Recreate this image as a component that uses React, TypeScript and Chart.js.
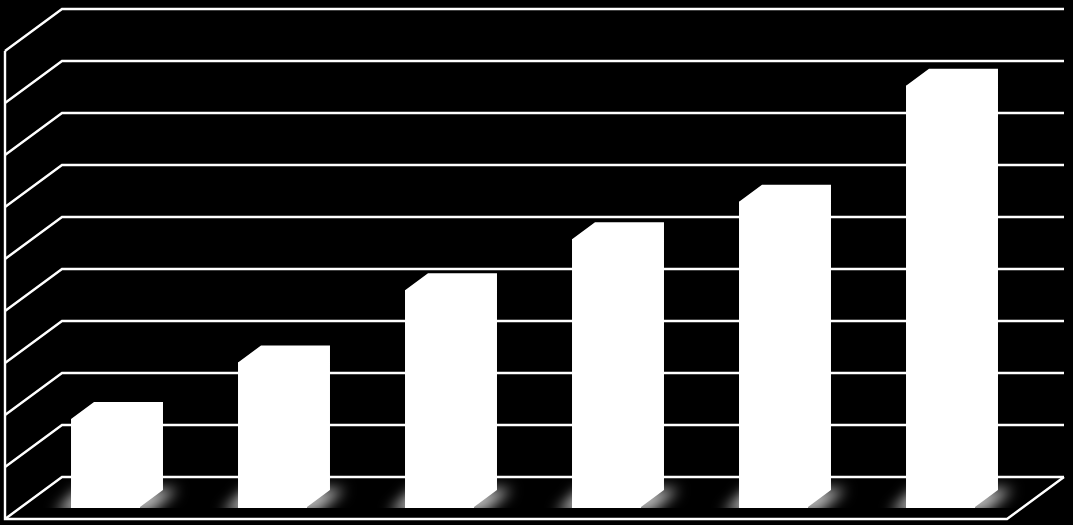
import React, { useEffect, useRef } from 'react';
import { Chart, registerables } from 'chart.js';

Chart.register(...registerables);

const categories = ['1', '2', '3', '4', '5', '6'];
const values = [169, 278, 417, 515, 587, 810];
const axisMax = 900;
const axisStep = 100;

// depth of the fake 3D box, relative to the plane the bars stand on
const frontWall = { dx: -17, dy: 12 };
const backWall = { dx: 40, dy: -30 };
const barDepth = { dx: 23, dy: -17 };

const fakeDepth = {
    id: 'fakeDepth',
    beforeDatasetsDraw(chart: any) {
        const { ctx, chartArea, scales } = chart;
        const yScale = scales.y;
        const backLeft = chartArea.left + backWall.dx;
        const backRight = chartArea.right + backWall.dx;
        const frontLeft = chartArea.left + frontWall.dx;
        const frontRight = chartArea.right + frontWall.dx;
        const baseY = yScale.getPixelForValue(0);

        ctx.save();
        ctx.strokeStyle = '#ffffff';
        ctx.lineWidth = 2.4;
        ctx.lineJoin = 'miter';

        yScale.ticks.forEach((tick: any) => {
            const y = yScale.getPixelForValue(tick.value);
            ctx.beginPath();
            ctx.moveTo(frontLeft, y + frontWall.dy);
            ctx.lineTo(backLeft, y + backWall.dy);
            ctx.lineTo(backRight, y + backWall.dy);
            ctx.stroke();
        });

        // left edge and floor outline
        ctx.beginPath();
        ctx.moveTo(frontLeft, yScale.getPixelForValue(axisMax) + frontWall.dy);
        ctx.lineTo(frontLeft, baseY + frontWall.dy);
        ctx.lineTo(frontRight, baseY + frontWall.dy);
        ctx.lineTo(backRight, baseY + backWall.dy);
        ctx.stroke();

        // soft shadow on the floor, cut off at the bars' base line
        const bars = chart.getDatasetMeta(0).data;
        ctx.beginPath();
        ctx.rect(0, 0, chart.width, baseY + 1);
        ctx.clip();
        ctx.filter = 'blur(7px)';
        ctx.fillStyle = '#b8b8b8';
        bars.forEach((bar: any) => {
            const left = bar.x - bar.width / 2;
            const right = bar.x + bar.width / 2;
            ctx.beginPath();
            ctx.moveTo(left - 16, baseY + 6);
            ctx.lineTo(right + 10, baseY + 6);
            ctx.lineTo(right + barDepth.dx + 15, baseY + barDepth.dy - 1);
            ctx.lineTo(left + barDepth.dx - 16, baseY + barDepth.dy - 1);
            ctx.closePath();
            ctx.fill();
        });
        ctx.restore();
    },
    afterDatasetsDraw(chart: any) {
        const { ctx } = chart;
        ctx.save();
        ctx.fillStyle = '#ffffff';
        chart.getDatasetMeta(0).data.forEach((bar: any) => {
            const left = bar.x - bar.width / 2;
            const right = bar.x + bar.width / 2;
            ctx.beginPath();
            ctx.moveTo(left, bar.y);
            ctx.lineTo(left + barDepth.dx, bar.y + barDepth.dy);
            ctx.lineTo(right + barDepth.dx, bar.y + barDepth.dy);
            ctx.lineTo(right + barDepth.dx, bar.base + barDepth.dy);
            ctx.lineTo(right, bar.base);
            // run back through the front face so no seam shows
            ctx.lineTo(right - 2, bar.base);
            ctx.lineTo(right - 2, bar.y + 2);
            ctx.lineTo(left, bar.y + 2);
            ctx.closePath();
            ctx.fill();
            // base sits a touch lower than the floor plane line
            ctx.fillRect(left, bar.base - 1, bar.width, 2);
        });
        ctx.restore();
    },
};

const App: React.FC = () => {
    const chartRef = useRef<HTMLCanvasElement>(null);

    useEffect(() => {
        if (!chartRef.current) return;
        document.body.style.margin = '0';
        document.body.style.background = '#000000';

        const chart = new Chart(chartRef.current, {
            type: 'bar',
            data: {
                labels: categories,
                datasets: [{
                    data: values,
                    backgroundColor: '#ffffff',
                    borderWidth: 0,
                    categoryPercentage: 1,
                    barPercentage: 0.413,
                }],
            },
            options: {
                responsive: false,
                animation: false,
                devicePixelRatio: 1,
                layout: { padding: { left: 22, right: 49, top: 39, bottom: 18 } },
                plugins: {
                    legend: { display: false },
                    title: { display: false },
                    tooltip: { enabled: false },
                },
                scales: {
                    x: { display: false },
                    y: {
                        display: false,
                        min: 0,
                        max: axisMax,
                        ticks: { stepSize: axisStep },
                    },
                },
            },
            plugins: [fakeDepth],
        });

        return () => {
            chart.destroy();
        };
    }, []);

    return <canvas ref={chartRef} width={1073} height={525} style={{ display: 'block', background: '#000000' }}></canvas>;
};

export default App;
